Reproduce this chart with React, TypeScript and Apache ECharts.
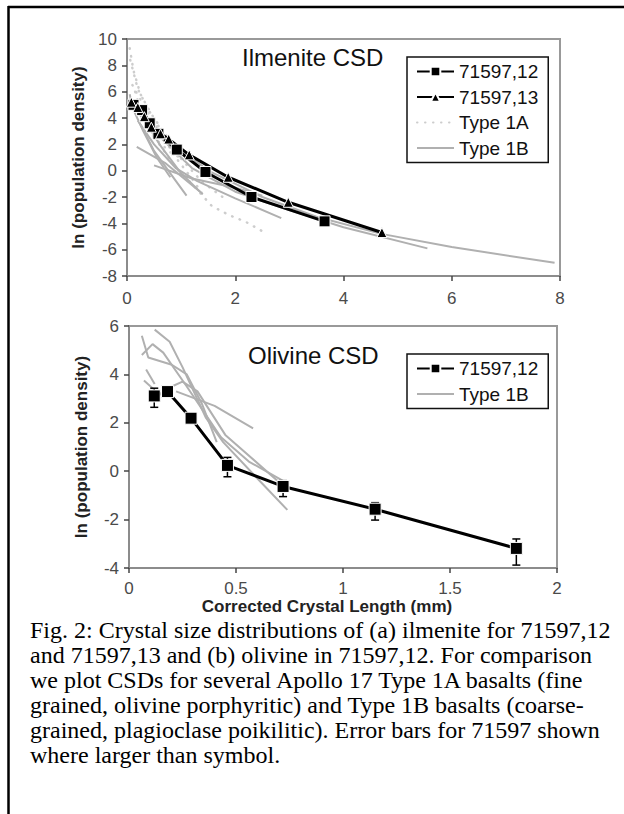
import React, { useEffect, useRef } from "react";
import * as echarts from "echarts";

// ---------- Ilmenite CSD (top panel) ----------
const ilmXTicks = [0, 2, 4, 6, 8];
const ilmYTicks = [-8, -6, -4, -2, 0, 2, 4, 6, 8, 10];
const ilm71597_12: number[][] = [
  [0.12, 5.0], [0.28, 4.6], [0.42, 3.6], [0.58, 2.8], [0.92, 1.6], [1.45, -0.1], [2.3, -2.0], [3.65, -3.85],
];
const ilm71597_13: number[][] = [
  [0.08, 5.2], [0.2, 4.8], [0.32, 4.1], [0.45, 3.3], [0.62, 2.8], [0.77, 2.4], [1.15, 1.2], [1.87, -0.5], [2.98, -2.4], [4.71, -4.7],
];
const ilmType1A: number[][][] = [
  [[0.05, 9.3], [0.12, 7.6], [0.25, 5.8], [0.45, 4.3], [0.7, 2.8], [1.0, 1.2]],
  [[0.06, 8.4], [0.2, 6.2], [0.4, 4.6], [0.7, 2.6], [1.0, 0.9], [1.4, -0.9], [1.8, -2.1]],
  [[0.1, 6.5], [0.3, 5.0], [0.6, 3.0], [0.9, 1.0], [1.2, -0.6], [1.45, -2.1]],
  [[0.6, 2.0], [0.9, 0.2], [1.2, -1.0], [1.57, -2.7], [1.9, -3.4], [2.2, -3.9], [2.5, -4.6]],
  [[0.15, 6.0], [0.3, 4.0], [0.5, 2.5], [0.8, 1.4], [1.1, 0.7]],
];
const ilmType1B: number[][][] = [
  [[0.3, 4.2], [0.8, 2.2], [1.5, 0.0], [2.5, -2.0], [3.5, -3.5], [4.7, -4.8], [6.0, -5.8], [7.9, -7.0]],
  [[0.2, 4.4], [0.6, 2.6], [1.2, 0.2], [2.0, -1.6], [3.0, -3.0], [4.0, -4.3], [5.55, -5.9]],
  [[0.2, 3.8], [0.5, 2.0], [0.9, 0.2], [1.3, -0.8], [2.0, -2.1], [2.85, -3.6]],
  [[0.18, 1.8], [0.7, 0.6], [1.35, -1.6]],
  [[0.25, 3.5], [0.5, 1.5], [0.8, -0.2], [1.1, -1.9]],
  [[0.3, 4.0], [0.6, 2.0], [1.0, -0.2], [1.4, -1.8]],
  [[0.05, 5.8], [0.1, 4.8], [0.3, 3.0], [0.55, 1.0], [0.8, -0.5]],
  [[0.5, 0.4], [1.2, -0.6], [2.0, -1.3], [2.5, -1.9]],
];

// ---------- Olivine CSD (bottom panel) ----------
const olvXTicks = [0, 0.5, 1, 1.5, 2];
const olvYTicks = [-4, -2, 0, 2, 4, 6];
const olv71597_12: number[][] = [
  [0.118, 3.11], [0.18, 3.29], [0.29, 2.19], [0.46, 0.24], [0.72, -0.63], [1.15, -1.57], [1.81, -3.19],
];
// [x, low, high]
const olvErrorBars: number[][] = [
  [0.118, 2.64, 3.43], [0.46, -0.23, 0.57], [0.72, -1.05, -0.39], [1.15, -2.02, -1.3], [1.81, -3.88, -2.8],
];
const olvType1B: number[][][] = [
  [[0.12, 5.85], [0.19, 5.35], [0.25, 4.3], [0.36, 2.2], [0.44, 1.2], [0.6, -0.3], [0.74, -1.6]],
  [[0.06, 5.6], [0.09, 4.7], [0.2, 4.4], [0.27, 4.0], [0.34, 2.8], [0.41, 1.2]],
  [[0.06, 4.8], [0.11, 5.25], [0.16, 4.9], [0.27, 3.5], [0.43, 1.4], [0.56, 0.4], [0.72, -0.4]],
  [[0.08, 4.2], [0.12, 3.6]],
  [[0.07, 3.75], [0.12, 3.35]],
  [[0.2, 3.5], [0.25, 3.7], [0.32, 3.3], [0.45, 1.5], [0.72, -0.6]],
  [[0.22, 3.3], [0.4, 2.7], [0.58, 1.77]],
];

const captionLines = [
  "Fig. 2: Crystal size distributions of (a) ilmenite for 71597,12",
  "and 71597,13 and (b) olivine in 71597,12. For comparison",
  "we plot CSDs for several Apollo 17 Type 1A basalts (fine",
  "grained, olivine porphyritic) and Type 1B basalts (coarse-",
  "grained, plagioclase poikilitic). Error bars for 71597 shown",
  "where larger than symbol.",
];

const SANS = '"Liberation Sans", Arial, sans-serif';
const SERIF = '"Liberation Serif", "Times New Roman", serif';

function makeXAxis(gridIndex: number, ticks: number[], margin: number) {
  return {
    gridIndex,
    type: "value",
    min: ticks[0],
    max: ticks[ticks.length - 1],
    interval: ticks[1] - ticks[0],
    axisLine: { show: true, onZero: false, lineStyle: { color: "#8c8c8c", width: 2 } },
    axisTick: { show: true, length: 5, lineStyle: { color: "#444", width: 1.5 } },
    axisLabel: { fontSize: 17, color: "#4a4a4a", fontFamily: SANS, margin },
    splitLine: { show: false },
  };
}
function makeYAxis(gridIndex: number, ticks: number[], nameGap: number) {
  return {
    gridIndex,
    type: "value",
    min: ticks[0],
    max: ticks[ticks.length - 1],
    interval: ticks[1] - ticks[0],
    name: "ln (population density)",
    nameLocation: "middle",
    nameGap,
    nameTextStyle: { fontSize: 17, fontWeight: "bold", color: "#222", fontFamily: SANS },
    axisLine: { show: true, onZero: false, lineStyle: { color: "#8c8c8c", width: 2 } },
    axisTick: { show: true, length: 5, lineStyle: { color: "#444", width: 1.5 } },
    axisLabel: { fontSize: 17, color: "#4a4a4a", fontFamily: SANS, margin: 10 },
    splitLine: { show: false },
  };
}

const gray1B = "#b0b0b0";
const gray1A = "#cdcdcd";

function grayLines(sets: number[][][], name: string, axis: number, dotted: boolean) {
  return sets.map((d) => ({
    name,
    type: "line",
    xAxisIndex: axis,
    yAxisIndex: axis,
    data: d,
    symbol: "none",
    color: dotted ? gray1A : gray1B,
    lineStyle: dotted
      ? { color: gray1A, width: 2.5, type: [0.5, 7.5], cap: "round" }
      : { color: gray1B, width: 2 },
    z: 2,
  }));
}

export default function App() {
  const ref = useRef<HTMLDivElement>(null);
  useEffect(() => {
    if (!ref.current) return;
    const chart = echarts.init(ref.current, null, { renderer: "svg" });
    const blackSeries = (name: string, data: number[][], axis: number, symbol: string, size: number) => ({
      name,
      type: "line",
      xAxisIndex: axis,
      yAxisIndex: axis,
      data,
      symbol,
      symbolSize: size,
      color: "#000",
      lineStyle: { color: "#000", width: 3 },
      itemStyle: { color: "#000", borderColor: "#fff", borderWidth: 1 },
      z: 5,
    });
    const legendBase = {
      orient: "vertical",
      backgroundColor: "#fff",
      borderColor: "#111",
      borderWidth: 1.5,
      borderRadius: 0,
      itemWidth: 37,
      itemHeight: 12,
      itemGap: 6.5,
      padding: [5, 10, 5, 9],
      textStyle: { fontSize: 19, color: "#111", fontFamily: SANS, lineHeight: 19 },
      selectedMode: false,
    };
    const noSym = (name: string) => ({ name, itemStyle: { opacity: 0 } });
    chart.setOption({
      animation: false,
      backgroundColor: "#fff",
      grid: [
        { left: 127, top: 39, width: 433, height: 237, show: true, borderColor: "#999", borderWidth: 2 },
        { left: 129, top: 326, width: 428, height: 242, show: true, borderColor: "#999", borderWidth: 2 },
      ],
      xAxis: [makeXAxis(0, ilmXTicks, 14), makeXAxis(1, olvXTicks, 12)],
      yAxis: [makeYAxis(0, ilmYTicks, 40), makeYAxis(1, olvYTicks, 39)],
      legend: [
        { ...legendBase, left: 407, top: 57, data: ["71597,12", "71597,13", noSym("Type 1A"), noSym("Type 1B")] },
        { ...legendBase, left: 407, top: 354, data: ["71597,12", noSym("Type 1B")] },
      ],
      graphic: [
        { type: "line", shape: { x1: 8, y1: 7, x2: 624, y2: 7 }, style: { stroke: "#000", lineWidth: 2.5 } },
        { type: "line", shape: { x1: 8.5, y1: 6, x2: 8.5, y2: 814 }, style: { stroke: "#000", lineWidth: 2.5 } },
        { type: "text", x: 242, y: 57, style: { text: "Ilmenite CSD", font: `24px ${SANS}`, fill: "#111", verticalAlign: "middle" } },
        { type: "text", x: 248, y: 355, style: { text: "Olivine CSD", font: `24px ${SANS}`, fill: "#111", verticalAlign: "middle" } },
        { type: "text", x: 327, y: 606, style: { text: "Corrected Crystal Length (mm)", font: `bold 17px ${SANS}`, fill: "#222", align: "center", verticalAlign: "middle" } },
        { type: "text", x: 30, y: 617, style: { text: captionLines.join("\n"), font: `24px ${SERIF}`, fill: "#000", lineHeight: 25 } },
      ],
      series: [
        ...grayLines(ilmType1A, "Type 1A", 0, true),
        ...grayLines(ilmType1B, "Type 1B", 0, false),
        blackSeries("71597,12", ilm71597_12, 0, "rect", 11),
        blackSeries("71597,13", ilm71597_13, 0, "triangle", 10),
        ...grayLines(olvType1B, "Type 1B", 1, false),
        {
          name: "error",
          type: "custom",
          xAxisIndex: 1,
          yAxisIndex: 1,
          data: olvErrorBars,
          encode: { x: 0, y: [1, 2] },
          z: 4,
          renderItem: (_p: any, api: any) => {
            const x = api.value(0);
            const lo = api.coord([x, api.value(1)]);
            const hi = api.coord([x, api.value(2)]);
            const w = 4;
            const st = { stroke: "#000", lineWidth: 1.5 };
            return {
              type: "group",
              children: [
                { type: "line", shape: { x1: lo[0], y1: lo[1], x2: hi[0], y2: hi[1] }, style: st },
                { type: "line", shape: { x1: lo[0] - w, y1: lo[1], x2: lo[0] + w, y2: lo[1] }, style: st },
                { type: "line", shape: { x1: hi[0] - w, y1: hi[1], x2: hi[0] + w, y2: hi[1] }, style: st },
              ],
            };
          },
        },
        blackSeries("71597,12", olv71597_12, 1, "rect", 12),
      ],
    });
    return () => chart.dispose();
  }, []);
  return <div ref={ref} style={{ position: "absolute", left: 0, top: 0, width: 624, height: 814 }} />;
}
